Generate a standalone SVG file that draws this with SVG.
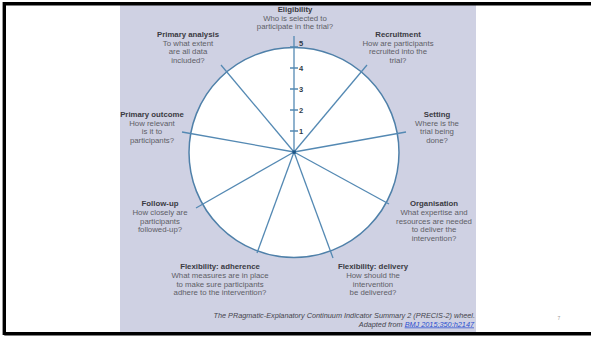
<svg xmlns="http://www.w3.org/2000/svg" width="591" height="337" viewBox="0 0 591 337">
<style>
text{font-family:"Liberation Sans",Arial,sans-serif;font-size:7.8px;fill:#5e5e66;text-anchor:middle}
.t{font-weight:bold;fill:#3a3a42}
.n{font-weight:bold;fill:#2f3a48;font-size:7.5px;text-anchor:start}
.cap{font-style:italic;text-anchor:end;font-size:7.3px;fill:#44444c}
.lnk{fill:#2a4fd0;text-decoration:underline}
.spoke{stroke:#5489b3;stroke-width:1.3;fill:none}
</style>
<rect x="0" y="0" width="591" height="337" fill="#ffffff"/>
<rect x="120" y="5" width="356" height="328" fill="#cfd1e3"/>
<path d="M4.3,335 V3.7 H591 M4.3,333.8 H591" fill="none" stroke="#000" stroke-width="3.4"/>
<g id="wheel">
<circle cx="294" cy="152.5" r="105" fill="#ffffff" stroke="#4f80a9" stroke-width="1.5"/>
</g>
<g id="connectors">
<line class="spoke" x1="294" y1="152" x2="294" y2="36"/>
<line class="spoke" x1="294" y1="152" x2="221" y2="65"/>
<line class="spoke" x1="294" y1="152" x2="367" y2="65"/>
<line class="spoke" x1="294" y1="152" x2="406" y2="132"/>
<line class="spoke" x1="294" y1="152" x2="389" y2="204"/>
<line class="spoke" x1="294" y1="152" x2="333" y2="258"/>
<line class="spoke" x1="294" y1="152" x2="257" y2="253"/>
<line class="spoke" x1="294" y1="152" x2="196" y2="208"/>
<line class="spoke" x1="294" y1="152" x2="182" y2="132"/>
<path class="spoke" d="M290,131H298M290,110H298M290,89H298M290,68H298M290,47H298"/>
<rect x="292.4" y="150.4" width="3.4" height="3.4" fill="#1d5687"/>
</g>
<g id="scale">
<text class="n" x="299" y="133.8">1</text>
<text class="n" x="299" y="112.8">2</text>
<text class="n" x="299" y="91.8">3</text>
<text class="n" x="299" y="70.8">4</text>
<text class="n" x="299" y="46">5</text>
</g>
<g id="eligibility">
<text class="t" x="295" y="12">Eligibility</text>
<text x="295" y="20.5">Who is selected to</text>
<text x="295" y="29">participate in the trial?</text>
</g>
<g id="recruitment">
<text class="t" x="398" y="37">Recruitment</text>
<text x="398" y="45.5">How are participants</text>
<text x="398" y="54">recruited into the</text>
<text x="398" y="62.5">trial?</text>
</g>
<g id="setting">
<text class="t" x="437" y="117">Setting</text>
<text x="437" y="125.5">Where is the</text>
<text x="437" y="134">trial being</text>
<text x="437" y="142.5">done?</text>
</g>
<g id="organisation">
<text class="t" x="434" y="206">Organisation</text>
<text x="434" y="215">What expertise and</text>
<text x="434" y="223.5">resources are needed</text>
<text x="434" y="232">to deliver the</text>
<text x="434" y="240.5">intervention?</text>
</g>
<g id="flex-delivery">
<text class="t" x="373" y="269">Flexibility: delivery</text>
<text x="373" y="277.5">How should the</text>
<text x="373" y="286.5">intervention</text>
<text x="373" y="295">be delivered?</text>
</g>
<g id="flex-adherence">
<text class="t" x="220" y="269">Flexibility: adherence</text>
<text x="220" y="277.5">What measures are in place</text>
<text x="220" y="286.5">to make sure participants</text>
<text x="220" y="295">adhere to the intervention?</text>
</g>
<g id="follow-up">
<text class="t" x="160" y="206">Follow-up</text>
<text x="160" y="215">How closely are</text>
<text x="160" y="223.5">participants</text>
<text x="160" y="232">followed-up?</text>
</g>
<g id="primary-outcome">
<text class="t" x="152" y="117">Primary outcome</text>
<text x="152" y="125.5">How relevant</text>
<text x="152" y="134">is it to</text>
<text x="152" y="142.5">participants?</text>
</g>
<g id="primary-analysis">
<text class="t" x="188" y="37">Primary analysis</text>
<text x="188" y="45.5">To what extent</text>
<text x="188" y="54">are all data</text>
<text x="188" y="62.5">included?</text>
</g>
<g id="caption">
<text class="cap" x="475" y="317.5">The PRagmatic-Explanatory Continuum Indicator Summary 2 (PRECIS-2) wheel.</text>
<text class="cap" x="474" y="326.5">Adapted from <tspan class="lnk">BMJ 2015;350:h2147</tspan></text>
</g>
<text x="559" y="320" style="font-size:5px;fill:#9a9a9a">7</text>
</svg>
